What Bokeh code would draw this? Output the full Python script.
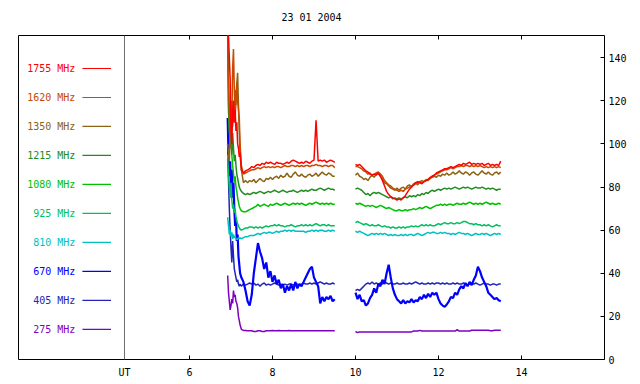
from bokeh.plotting import figure
from bokeh.models import LinearAxis, FixedTicker, Span, Range1d, CustomJSTickFormatter
from bokeh.core.properties import value
from bokeh.embed import file_html
from bokeh.resources import INLINE

TITLE = "23 01 2004"
FREQS = ["1755 MHz", "1620 MHz", "1350 MHz", "1215 MHz", "1080 MHz",
         "925 MHz", "810 MHz", "670 MHz", "405 MHz", "275 MHz"]
COLORS = ["#ff0000", "#c84a00", "#8c6414", "#238b23", "#00c000",
          "#00bf60", "#00c0c0", "#0000ff", "#2424bc", "#7f00bf"]
X_TICKS = [6, 8, 10, 12, 14]
Y_TICKS = [0, 20, 40, 60, 80, 100, 120, 140]
UT_POS = 4.434

# time (UT hours), first observing block
T1 = [6.92, 6.94, 6.96, 6.98, 7.00, 7.02, 7.04, 7.06, 7.08, 7.10, 7.12, 7.14, 7.16, 7.18, 7.20, 7.22,
      7.25, 7.30, 7.35, 7.40, 7.45, 7.50, 7.55, 7.60, 7.65, 7.70, 7.75, 7.80, 7.85, 7.90, 7.95,
      8.00, 8.05, 8.10, 8.15, 8.20, 8.25, 8.30, 8.35, 8.40, 8.45, 8.50, 8.55, 8.60, 8.65, 8.70,
      8.75, 8.80, 8.85, 8.90, 8.95, 9.00, 9.05, 9.10, 9.15, 9.20, 9.25, 9.30, 9.35, 9.40, 9.45, 9.50]
# second observing block
T2 = [10.00, 10.05, 10.10, 10.15, 10.20, 10.25, 10.30, 10.35, 10.40, 10.45, 10.50, 10.55, 10.60, 10.65,
      10.70, 10.75, 10.80, 10.85, 10.90, 10.95, 11.00, 11.05, 11.10, 11.15, 11.20, 11.25, 11.30, 11.35,
      11.40, 11.45, 11.50, 11.55, 11.60, 11.65, 11.70, 11.75, 11.80, 11.85, 11.90, 11.95, 12.00, 12.05,
      12.10, 12.15, 12.20, 12.25, 12.30, 12.35, 12.40, 12.45, 12.50, 12.55, 12.60, 12.65, 12.70, 12.75,
      12.80, 12.85, 12.90, 12.95, 13.00, 13.05, 13.10, 13.15, 13.20, 13.25, 13.30, 13.35, 13.40, 13.45, 13.50]

F1755_A = [152, 150, 140, 130, 108, 100, 115, 120, 110, 116, 106, 110, 100, 98, 94, 96, 88, 86.5, 87.5, 88, 88.5,
           89.5, 89, 90, 90.5, 90, 91, 90.5, 91.5, 91, 91.5, 91, 90.5, 91.5, 91, 91, 90.5, 91, 91.5, 91, 92,
           92.5, 92, 91.5, 91, 91.5, 91, 92, 91.5, 91, 92, 92.5, 111, 92, 92.5, 92, 92.5, 91.5, 92, 92.5, 92, 91.5]
F1755_B = [90.5, 90, 90.5, 89.5, 88.5, 87.5, 87, 86, 85.5, 86, 85.5, 86.5, 85, 83, 80.5, 78, 76.5, 75.5, 75, 74.5,
           74, 74.5, 74, 75, 76, 77.5, 79, 80, 81, 82, 82.5, 82, 81.5, 82.5, 83, 83.5, 84.5, 85, 85.5, 86.5,
           87, 87.5, 88, 88.5, 88.5, 89, 89.5, 89, 89.5, 90, 90.5, 90, 91, 90.5, 91, 91.5, 90.5, 91, 90.5, 91,
           90.5, 91, 90, 90.5, 91, 90, 90.5, 90, 90.5, 90, 92]

F1620_A = [145, 130, 115, 105, 120, 110, 135, 144, 125, 112, 120, 128, 120, 116, 112, 100, 90, 86, 86.5, 87, 87.5,
           88, 88, 88.5, 89, 88.5, 89, 89.5, 89, 89.5, 89, 89.5, 89, 89.5, 89.5, 89, 89.5, 90, 89.5, 89.5, 90,
           90, 89.5, 90, 89.5, 90, 89.5, 90, 90, 89.5, 90, 90, 90.5, 90, 90, 89.5, 90, 90, 89.5, 90, 90, 89]
F1620_B = [89.5, 89.5, 89, 88.5, 87.5, 87, 86, 86.5, 85.5, 86, 86.5, 87, 86, 85, 83, 82, 81, 80.5, 79.5, 79,
           78.5, 78, 78.5, 78, 79, 79.5, 80, 80.5, 81, 81.5, 82, 82.5, 82, 82.5, 83, 83.5, 84, 85, 85.5, 86,
           86.5, 87, 87.5, 88, 88, 88.5, 89, 88.5, 89, 89.5, 89.5, 90, 89.5, 90, 90, 89.5, 90, 89.5, 90, 89.5,
           90, 89.5, 89, 89.5, 89, 89.5, 89, 89.5, 89, 89.5, 89]

F1350_A = [100, 95, 92, 105, 98, 115, 108, 120, 110, 125, 118, 128, 133, 118, 105, 95, 88, 82, 83, 82, 83,
           82.5, 83.5, 82, 83, 84, 83, 82.5, 84, 83.5, 84.5, 83.5, 84.5, 85, 84, 85.5, 84.5, 85, 86.5, 85, 84.5,
           86, 87, 85.5, 85, 86, 85, 84.5, 85.5, 86, 85, 85.5, 86.5, 85, 86, 87, 86, 85.5, 86.5, 86, 85, 85]
F1350_B = [85.5, 86.5, 85, 84.5, 83.5, 84, 83, 84.5, 85.5, 84.5, 86, 86.5, 85, 84, 82, 81.5, 80.5, 79.5, 79, 78.5,
           79.5, 78.5, 79.5, 80, 79, 80.5, 81, 80, 81.5, 82, 81, 82.5, 83, 82.5, 83.5, 83, 84, 84.5, 85, 84.5,
           85.5, 85, 86, 85.5, 86.5, 85.5, 86, 87, 86, 86.5, 87.5, 86.5, 86, 87, 86.5, 85.5, 86.5, 87, 86, 85.5,
           86.5, 87.5, 86.5, 86, 87, 86, 85.5, 86.5, 87, 86, 87]

F1215_A = [152, 120, 105, 110, 100, 95, 105, 98, 92, 95, 90, 86, 84, 82, 80, 79, 78, 77, 76.5, 77, 76.5,
           77, 77.5, 77, 77.5, 78, 77.5, 77, 77.5, 78, 77.5, 78, 78.5, 78, 77.5, 78, 78.5, 78, 77.5, 78, 78,
           78.5, 78, 77.5, 78, 78.5, 78, 78.5, 78, 78.5, 79, 78.5, 78.5, 79, 79.5, 79, 78.5, 79, 79.5, 79, 79, 78.5]
F1215_B = [79, 79.5, 79, 78.5, 77.5, 76.5, 77, 76, 77, 77.5, 77, 77.5, 77, 76.5, 76, 75.5, 75, 75.5, 74.5, 75,
           74.5, 75, 74.5, 75, 75.5, 75, 76, 75.5, 76, 75.5, 76.5, 76, 77, 76.5, 77.5, 77, 78, 78.5, 78, 78.5,
           79, 78.5, 79, 79.5, 79, 79.5, 79, 79.5, 80, 79.5, 79, 79.5, 80, 79.5, 80, 79.5, 79, 79.5, 80, 79.5,
           79.5, 80, 79.5, 79, 79.5, 79, 79.5, 79, 78.5, 79, 79]

F1080_A = [150, 115, 108, 100, 112, 95, 90, 86, 82, 85, 80, 78, 75, 73, 71, 70, 69, 68.5, 68.5, 69, 69.5,
           70, 70.5, 71, 72, 71, 71.5, 72, 71.5, 71, 72, 71.5, 72, 72.5, 72, 71.5, 72, 72.5, 72, 71.5, 72,
           72.5, 72, 72.5, 72, 72.5, 72, 71.5, 72, 72.5, 72, 72.5, 73, 72.5, 72, 72.5, 72, 72.5, 72, 72.5, 72, 72]
F1080_B = [72.5, 72, 72.5, 72, 71.5, 71, 71.5, 71, 71.5, 71, 70.5, 71, 71.5, 71, 70.5, 70, 70.5, 70, 69.5, 69,
           69, 69.5, 69, 69, 69.5, 69, 69.5, 69.5, 70, 69.5, 70, 70.5, 70, 70.5, 71, 70.5, 70, 70.5, 71, 71.5,
           71.5, 72, 71.5, 72, 71.5, 72, 72, 71.5, 72, 72.5, 72, 72, 72.5, 72, 72.5, 73, 72.5, 72, 72.5, 72,
           72.5, 72, 72.5, 73, 72.5, 72, 72.5, 72, 72, 72.5, 72]

F925_A = [95, 85, 80, 75, 82, 74, 70, 72, 68, 70, 66, 64, 63, 62, 61, 60.5, 60, 60.5, 61, 61, 61.5,
          61.5, 61, 61.5, 61, 61.5, 61, 61.5, 62, 61.5, 62, 62, 62.5, 62, 62.5, 62, 62, 61.5, 62, 62, 62.5,
          62, 61.5, 62, 62, 62.5, 62, 62.5, 62, 62.5, 62, 62.5, 63, 62.5, 62, 62.5, 62.5, 62, 62.5, 62, 62, 62]
F925_B = [63.5, 64, 63.5, 63, 62.5, 63, 62.5, 62, 62.5, 62, 62, 62.5, 62, 61.5, 62, 61.5, 61.5, 61, 61.5, 61,
          61, 61.5, 61, 61.5, 61, 61.5, 61.5, 62, 61.5, 62, 61.5, 62, 62.5, 62, 62.5, 62, 62.5, 62, 62, 62.5,
          63, 62.5, 63, 63.5, 63, 63, 63.5, 63, 63, 63.5, 63, 63.5, 64, 64, 63.5, 63, 63, 62.5, 63, 62.5,
          62.5, 62, 62.5, 62, 62.5, 62, 61.5, 62, 62.5, 62, 62]

F810_A = [66, 62, 58, 60, 57, 59, 56, 58, 56.5, 57, 56, 55.5, 56, 56.5, 56, 56.5, 56, 56.5, 57, 57, 57.5,
          57.5, 57.5, 58, 58.5, 58, 58.5, 59, 58.5, 59, 59, 58.5, 59, 59.5, 59, 59.5, 59.5, 60, 59.5, 60, 59.5,
          60, 59.5, 59.5, 59.5, 59.5, 59.5, 59, 59.5, 59.5, 60, 59.5, 60, 59.5, 60, 60, 59.5, 59.5, 60, 59.5, 60, 59.5]
F810_B = [59.5, 59, 59.5, 59, 58.5, 58, 57.5, 58, 58.5, 58, 58.5, 58, 58.5, 58, 58.5, 58, 57.5, 58, 57.5, 58,
          57.5, 57.5, 58, 57.5, 58, 57.5, 58, 58, 57.5, 58, 58.5, 58, 57.5, 58, 58.5, 59, 58.5, 59, 59, 58.5,
          58.5, 59, 58.5, 59, 58.5, 58.5, 58, 58.5, 58, 58.5, 59, 58.5, 58.5, 58, 58.5, 58, 57.5, 58, 58.5, 58,
          58, 58.5, 58, 58.5, 58, 57.5, 58, 58.5, 58, 58.5, 58]

F670_A = [112, 95, 85, 92, 80, 88, 75, 82, 70, 62, 66, 55, 58, 48, 44, 40, 38, 36, 32, 27, 25,
          30, 40, 47, 54, 50, 47, 42, 45, 38, 41, 36, 39, 35, 37, 33, 35, 31, 34, 32, 35,
          32, 36, 33, 35, 34, 36, 38, 40, 42, 43, 38, 36, 34, 26, 29, 27, 29, 28, 29.5, 27, 28]
F670_B = [31, 28, 30, 27, 27.5, 25, 26, 28.5, 30, 33, 31, 35, 34, 37, 35, 40, 44, 38, 33, 30,
          28, 27, 26, 27.5, 26, 27, 26.5, 28, 26.5, 27.5, 27, 29, 28, 30, 28.5, 30.5, 29, 31, 30, 31,
          28, 26, 25, 24.5, 25.5, 27, 29, 28.5, 31, 30, 32.5, 34, 33, 35.5, 34, 36, 34.5, 37, 39, 43,
          41, 38, 36, 34, 31, 30, 29, 28, 28.5, 27.5, 27]

F405_A = [100, 83, 70, 60, 52, 45, 55, 48, 42, 40, 38, 36, 37, 35, 34, 35, 34, 35, 34.5, 35, 35.5,
          35, 35.5, 34.5, 35, 34, 35, 35.5, 34.5, 35, 34.5, 35, 35.5, 35, 34.5, 35, 34.5, 35, 34.5, 35, 35,
          34.5, 35, 35, 34.5, 35, 35.5, 35, 35, 35.5, 35, 35.5, 35, 35.5, 36, 35.5, 35, 35.5, 35, 35, 35.5, 35]
F405_B = [32, 32.5, 32, 33, 34, 35, 35.5, 35, 36, 35, 35.5, 35, 35.5, 35, 36, 35.5, 35, 35.5, 35, 35,
          35.5, 35, 35, 35.5, 35, 35, 35.5, 35, 35.5, 36, 35.5, 35, 35.5, 35, 35, 35.5, 35, 35.5, 35, 35.5,
          35.5, 35, 35.5, 35, 35.5, 35, 35, 35.5, 35, 35.5, 35, 35, 35.5, 35, 34.5, 35, 35.5, 35, 35.5, 35,
          34.5, 35, 35.5, 35, 35, 34.5, 35, 35, 34.5, 35, 35]

F275_A = [39, 31, 27, 23, 25, 28, 26, 32, 29, 30, 27, 26, 24, 20, 18, 16, 14, 13.5, 13.5, 13.3, 13.3,
          13.3, 13, 13, 13.3, 13.3, 13, 13, 13.3, 13.3, 13.3, 13.5, 13.3, 13.3, 13.5, 13.3, 13.3, 13.3, 13.3,
          13.5, 13.3, 13.3, 13.3, 13.3, 13.3, 13.3, 13.3, 13.3, 13.3, 13.3, 13.3, 13.3, 13.3, 13.3, 13.3,
          13.3, 13.3, 13.3, 13.3, 13.3, 13.3, 13.3]
F275_B = [13, 12.5, 12.8, 12.8, 12.8, 12.8, 12.8, 12.8, 12.8, 12.8, 12.8, 12.8, 12.8, 12.8, 12.8, 12.8,
          12.8, 12.8, 12.8, 12.8, 12.8, 12.8, 12.8, 12.8, 12.8, 12.8, 12.8, 12.8, 13.2, 13.2, 13.2, 13.5,
          13.2, 13.2, 13.2, 13.2, 13.2, 13.2, 13.2, 13.2, 13.2, 13.2, 13.2, 13.2, 13.2, 13.2, 13.2, 13.2,
          13.2, 13.8, 13.2, 13.2, 13.2, 13.2, 13.2, 13.2, 13.6, 13.6, 13.6, 13.6, 13.6, 13.6, 13.6, 13.6,
          13.6, 13.3, 13.3, 13.6, 13.6, 13.6, 13.6]

SERIES = [(F1755_A, F1755_B), (F1620_A, F1620_B), (F1350_A, F1350_B), (F1215_A, F1215_B),
          (F1080_A, F1080_B), (F925_A, F925_B), (F810_A, F810_B), (F670_A, F670_B),
          (F405_A, F405_B), (F275_A, F275_B)]
for a, b in SERIES:
    assert len(a) == len(T1) and len(b) == len(T2), (len(a), len(b))

FONT = value("DejaVu Sans Mono")
FS = "10px"
X0, X1 = 1.88, 16.0
Y0, Y1 = 0, 150.3

p = figure(frame_width=586, frame_height=324,
           x_range=Range1d(X0, X1), y_range=Range1d(Y0, Y1),
           y_axis_location="right", output_backend="svg", toolbar_location=None,
           min_border_left=18, min_border_right=28, min_border_top=35, min_border_bottom=20,
           background_fill_color="white", border_fill_color="white")
p.outline_line_color = "black"
p.outline_line_width = 1
p.xgrid.visible = False
p.ygrid.visible = False

# bottom axis
xa = p.xaxis[0]
xa.ticker = FixedTicker(ticks=[UT_POS] + X_TICKS)
xa.formatter = CustomJSTickFormatter(code="return Math.abs(tick - %f) < 0.01 ? 'UT' : tick.toFixed(0);" % UT_POS)
xa.major_tick_in = 4
xa.major_tick_out = 0
xa.minor_tick_line_color = None
xa.axis_line_color = None
xa.major_label_standoff = 7
xa.major_label_text_font = "DejaVu Sans Mono"
xa.major_label_text_font_size = FS
xa.major_label_text_color = "black"

# right axis
ya = p.yaxis[0]
ya.ticker = FixedTicker(ticks=Y_TICKS)
ya.major_tick_in = 4
ya.major_tick_out = 0
ya.minor_tick_line_color = None
ya.axis_line_color = None
ya.major_label_standoff = 4
ya.major_label_text_font = "DejaVu Sans Mono"
ya.major_label_text_font_size = FS
ya.major_label_text_color = "black"

# top axis: mirrored ticks only; its axis label carries the date title
ta = LinearAxis(ticker=FixedTicker(ticks=X_TICKS), major_tick_in=4, major_tick_out=0,
                minor_tick_line_color=None, axis_line_color=None,
                formatter=CustomJSTickFormatter(code="return '';"),
                major_label_text_font_size="1px", major_label_standoff=0,
                axis_label=TITLE, axis_label_standoff=13,
                axis_label_text_font="DejaVu Sans Mono", axis_label_text_font_size=FS,
                axis_label_text_font_style="normal", axis_label_text_color="black")
p.add_layout(ta, "above")

# separator between legend area and data
p.add_layout(Span(location=UT_POS, dimension="height", line_color="#707070", line_width=1))

nan = float("nan")
for (a, b), col, name in reversed(list(zip(SERIES, COLORS, FREQS))):
    lw = 2.2 if name == "670 MHz" else 1.5
    p.line(T1 + [nan] + T2, a + [nan] + b, line_color=col, line_width=lw)

# legend: labels then short line samples
LEG_TOP = 135.0
LEG_STEP = 13.45
leg_y = [LEG_TOP - i * LEG_STEP for i in range(len(FREQS))]
p.text(x=[3.25] * len(FREQS), y=leg_y, text=FREQS, text_color=COLORS,
       text_align="right", text_baseline="middle", text_font=FONT, text_font_size=FS)
p.segment(x0=[3.42] * len(FREQS), x1=[4.11] * len(FREQS), y0=leg_y, y1=leg_y,
          line_color=COLORS, line_width=1.2)

open("out.html", "w").write(file_html(p, INLINE))
